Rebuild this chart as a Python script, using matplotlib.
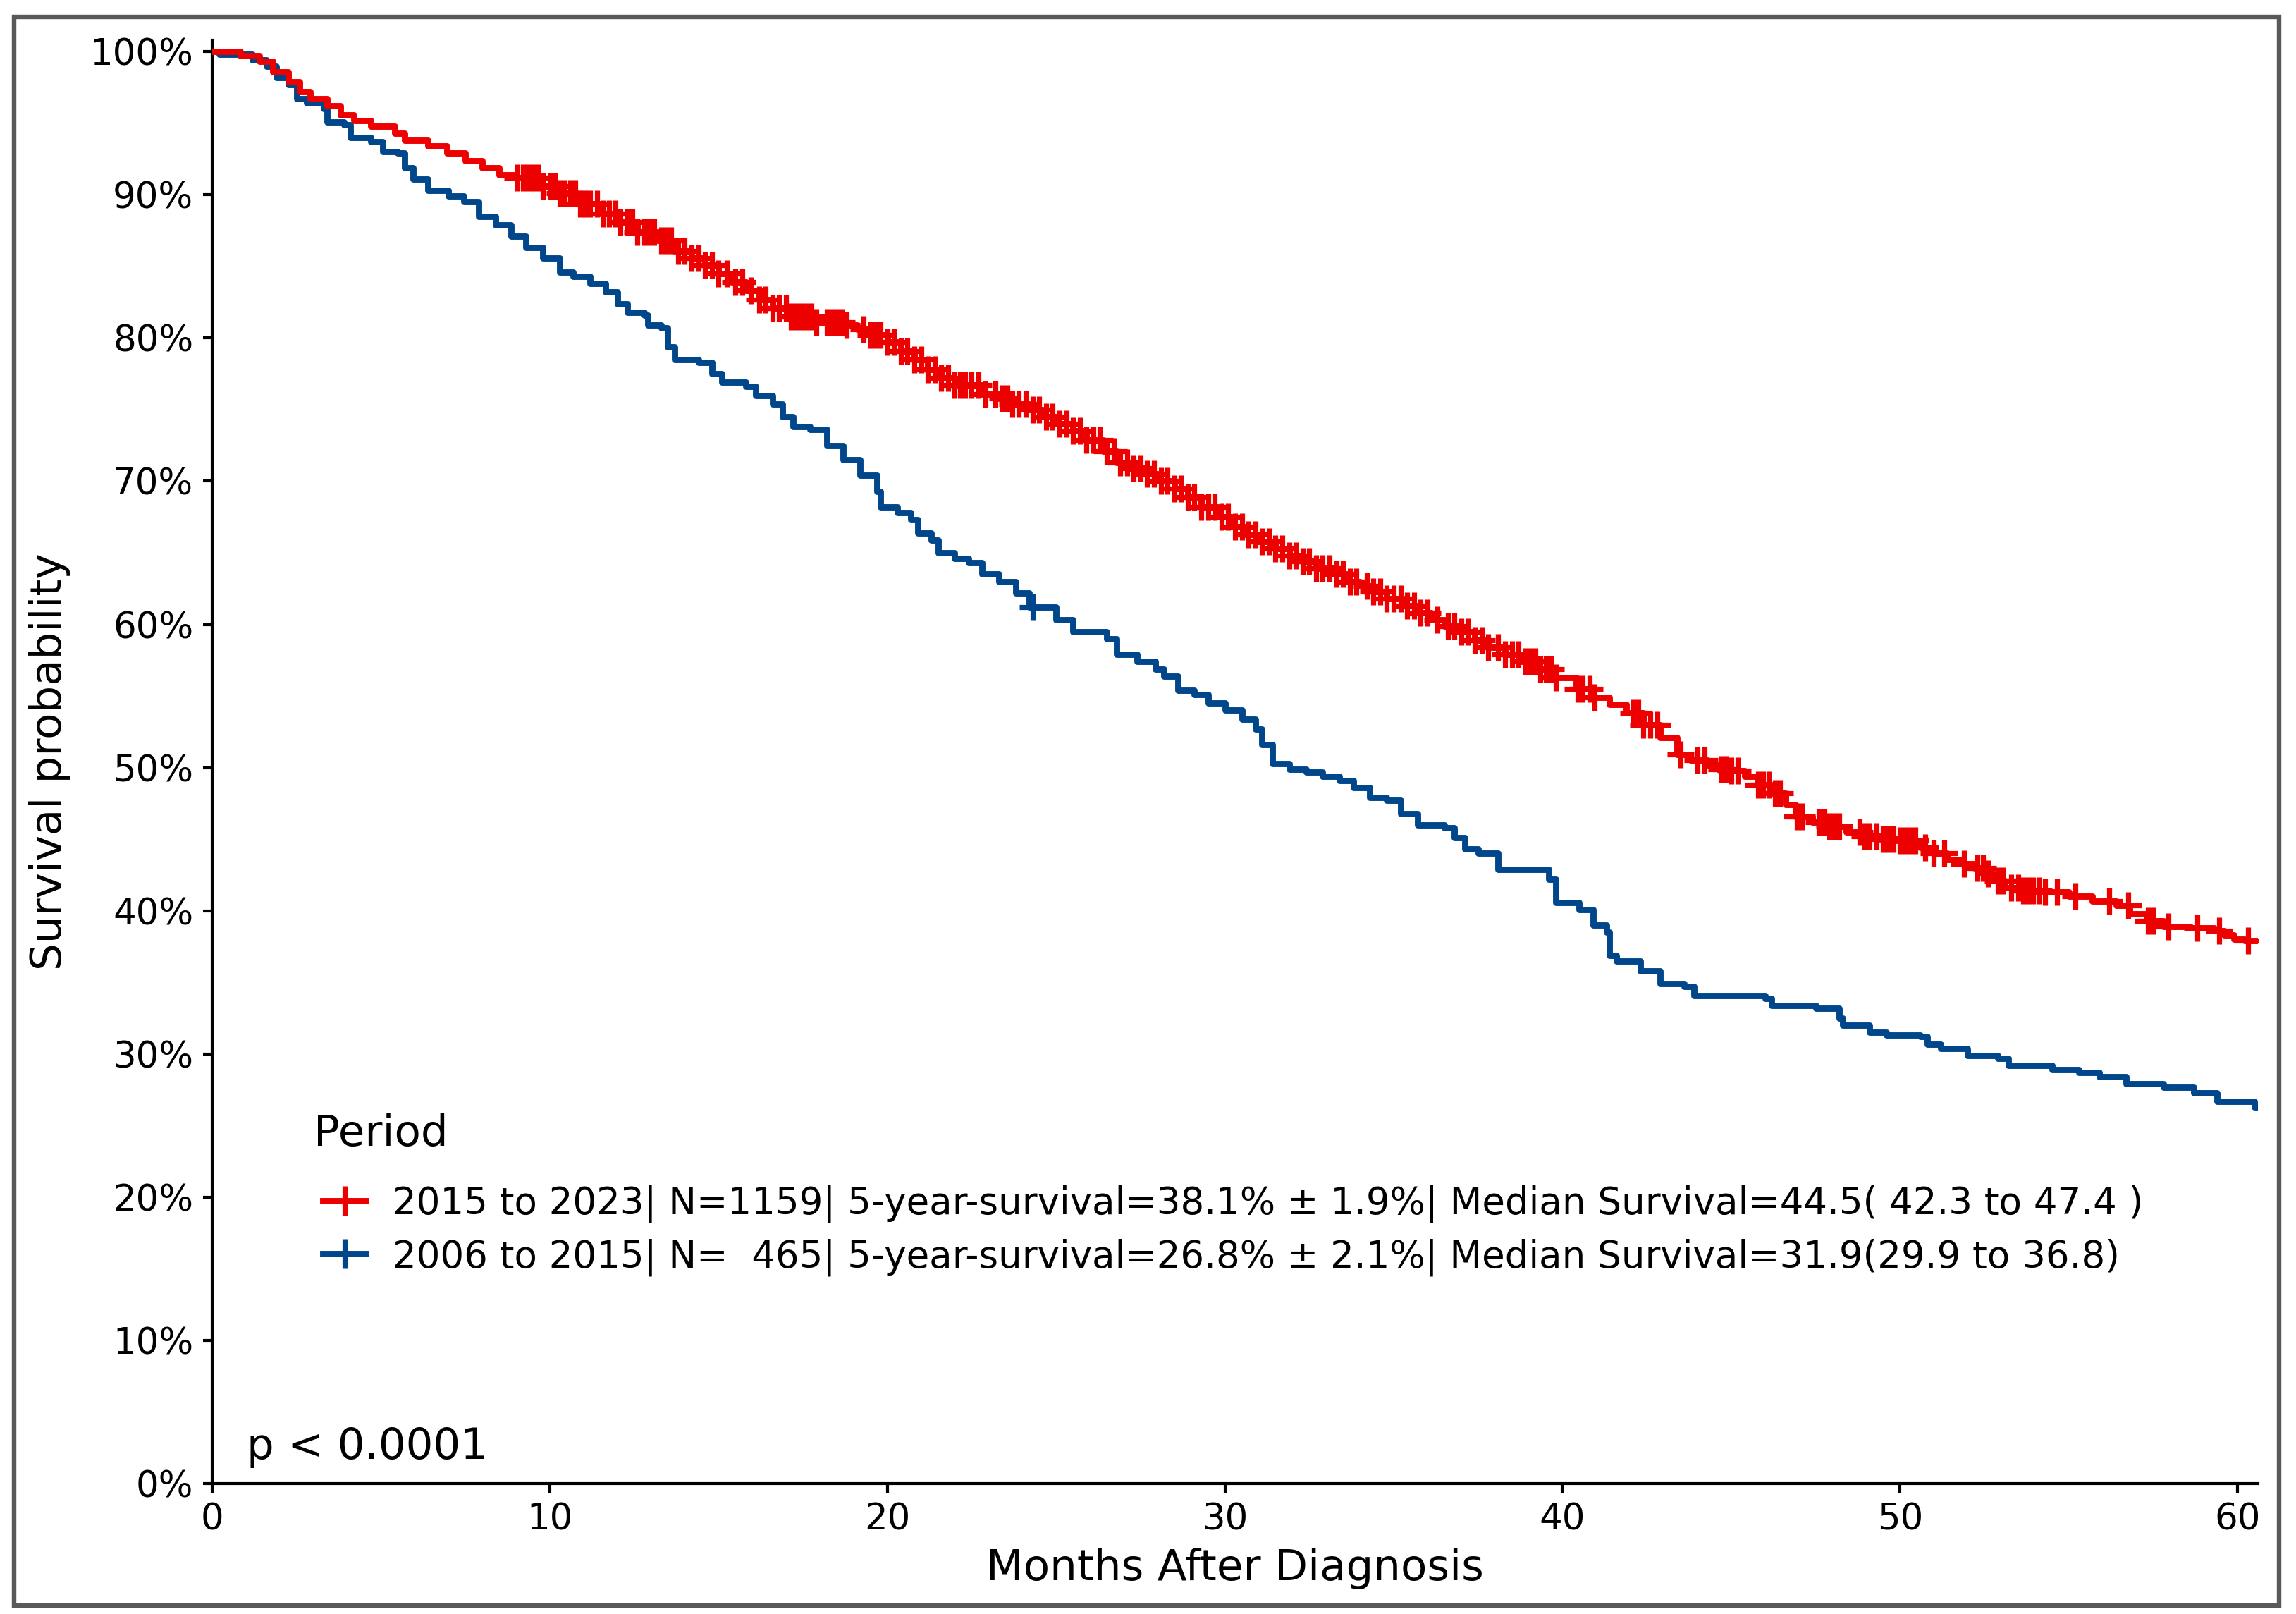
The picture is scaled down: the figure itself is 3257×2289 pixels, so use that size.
import numpy as np
import matplotlib
matplotlib.use("Agg")
import matplotlib.pyplot as plt
from matplotlib.lines import Line2D
from matplotlib.patches import Rectangle
from matplotlib.ticker import PercentFormatter

# Kaplan-Meier curves (months, survival)
red_t = [0, 0.6, 0.84, 1.4, 1.8, 2.25, 2.6, 2.9, 3.4, 3.8, 4.2, 4.7, 5.4, 5.7, 6.4, 6.95,
         7.5, 8.0, 8.5, 9.0, 9.7, 10.2, 10.8, 11.5, 12.0, 12.6, 13.2, 13.7, 14.2, 14.6,
         15.0, 15.4, 15.8, 16.2, 16.6, 17.05, 17.9, 18.7, 19.1, 19.5, 20.0, 20.4, 20.8,
         21.2, 21.6, 22.0, 22.8, 23.3, 23.7, 24.2, 24.6, 25.05, 25.5, 25.9, 26.4, 26.8,
         27.2, 27.6, 28.0, 28.5, 28.9, 29.3, 29.8, 30.2, 30.6, 31.0, 31.5, 31.9, 32.3,
         32.7, 33.2, 33.6, 34.0, 34.4, 34.8, 35.3, 35.7, 36.1, 36.5, 36.9, 37.4, 37.8,
         38.3, 38.8, 39.3, 39.8, 40.4, 40.9, 41.4, 41.9, 42.4, 42.9, 43.4, 43.8, 44.3,
         44.6, 45.0, 45.4, 45.8, 46.2, 46.6, 46.9, 47.4, 47.9, 48.4, 48.9, 49.4, 49.9,
         50.6, 51.0, 51.4, 51.8, 52.2, 52.5, 52.8, 53.1, 53.6, 54.3, 55.0, 55.7, 56.4,
         56.8, 57.3, 57.8, 58.6, 59.3, 59.6, 59.9, 60.2, 60.6]
red_s = [1.000, 1.000, 0.997, 0.993, 0.986, 0.979, 0.972, 0.967, 0.962, 0.956, 0.952, 0.948,
         0.943, 0.938, 0.934, 0.929, 0.924, 0.919, 0.914, 0.912, 0.906, 0.901, 0.894, 0.887,
         0.881, 0.874, 0.868, 0.861, 0.856, 0.851, 0.845, 0.839, 0.833, 0.827, 0.821, 0.815,
         0.811, 0.809, 0.806, 0.802, 0.797, 0.791, 0.785, 0.778, 0.772, 0.767, 0.761, 0.758,
         0.754, 0.750, 0.745, 0.740, 0.735, 0.729, 0.721, 0.713, 0.709, 0.705, 0.700, 0.695,
         0.689, 0.682, 0.675, 0.668, 0.663, 0.658, 0.653, 0.648, 0.644, 0.639, 0.635, 0.630,
         0.627, 0.623, 0.618, 0.613, 0.608, 0.603, 0.599, 0.595, 0.589, 0.584, 0.579, 0.574,
         0.569, 0.563, 0.555, 0.549, 0.544, 0.538, 0.530, 0.521, 0.509, 0.505, 0.502, 0.499,
         0.498, 0.494, 0.488, 0.482, 0.474, 0.466, 0.462, 0.459, 0.455, 0.452, 0.450, 0.449,
         0.444, 0.440, 0.436, 0.433, 0.430, 0.426, 0.421, 0.416, 0.414, 0.413, 0.410, 0.407,
         0.404, 0.398, 0.393, 0.389, 0.388, 0.386, 0.383, 0.380, 0.379, 0.379]

blue_t = [0, 0.2, 1.2, 1.6, 1.9, 2.25, 2.5, 2.8, 3.3, 3.4, 3.9, 4.1, 4.7, 5.05, 5.5, 5.7,
          5.96, 6.4, 7.0, 7.45, 7.9, 8.4, 8.85, 9.3, 9.8, 10.3, 10.7, 11.2, 11.65, 12.0,
          12.3, 12.8, 12.9, 13.3, 13.5, 13.7, 14.4, 14.8, 15.1, 15.8, 16.1, 16.6, 16.9,
          17.2, 17.7, 18.2, 18.7, 19.2, 19.7, 19.8, 20.3, 20.7, 20.9, 21.3, 21.5, 22.0,
          22.4, 22.8, 23.3, 23.8, 24.2, 25.0, 25.5, 26.5, 26.8, 27.4, 27.95, 28.2, 28.6,
          29.1, 29.5, 30.0, 30.5, 30.9, 31.1, 31.4, 31.9, 32.4, 32.9, 33.4, 33.8, 34.3,
          34.8, 35.2, 35.7, 36.5, 36.8, 37.1, 37.5, 38.1, 39.6, 39.8, 40.5, 40.9, 41.3,
          41.4, 41.6, 42.3, 42.9, 43.6, 43.9, 46.0, 46.2, 47.5, 48.2, 48.3, 49.1, 49.6,
          50.6, 50.8, 51.2, 52.0, 52.9, 53.2, 54.5, 55.3, 55.9, 56.7, 57.8, 58.7, 59.4,
          60.5, 60.6]
blue_s = [1.000, 0.998, 0.994, 0.990, 0.982, 0.977, 0.967, 0.964, 0.960, 0.951, 0.949, 0.940,
          0.937, 0.930, 0.929, 0.919, 0.911, 0.903, 0.899, 0.895, 0.885, 0.879, 0.871, 0.863,
          0.856, 0.846, 0.843, 0.838, 0.832, 0.824, 0.818, 0.816, 0.809, 0.807, 0.794, 0.785,
          0.783, 0.775, 0.769, 0.766, 0.760, 0.754, 0.745, 0.738, 0.736, 0.725, 0.715, 0.704,
          0.693, 0.682, 0.678, 0.673, 0.664, 0.659, 0.650, 0.646, 0.643, 0.635, 0.630, 0.622,
          0.612, 0.603, 0.595, 0.590, 0.579, 0.574, 0.569, 0.564, 0.554, 0.551, 0.545, 0.540,
          0.534, 0.527, 0.516, 0.503, 0.499, 0.497, 0.494, 0.491, 0.486, 0.479, 0.477, 0.468,
          0.460, 0.458, 0.451, 0.443, 0.440, 0.429, 0.422, 0.406, 0.401, 0.390, 0.385, 0.369,
          0.365, 0.358, 0.349, 0.347, 0.341, 0.339, 0.334, 0.332, 0.325, 0.320, 0.315, 0.313,
          0.312, 0.307, 0.304, 0.299, 0.297, 0.292, 0.289, 0.287, 0.284, 0.279, 0.277, 0.273,
          0.267, 0.263, 0.263]

# censoring times (months)
red_cens = [9.05, 9.2, 9.35, 9.5, 9.65, 9.8, 10.0, 10.15, 10.3, 10.45, 10.6, 10.75, 10.9,
            11.05, 11.2, 11.4, 11.6, 11.75, 11.95, 12.1, 12.3, 12.45, 12.6,
            12.8, 12.95, 13.1, 13.3, 13.45, 13.6, 13.8, 14.0, 14.2, 14.4, 14.6, 14.8, 15.0,
            15.25, 15.5, 15.7, 15.95, 16.2, 16.4, 16.6, 16.8, 17.0, 17.15, 17.3, 17.45, 17.6,
            17.75, 17.9, 18.2, 18.35, 18.5, 18.65, 18.8, 19.3, 19.5, 19.65, 19.8, 20.0, 20.2,
            20.4, 20.6, 20.8, 21.0, 21.2, 21.4, 21.6, 21.8, 22.0, 22.15, 22.3, 22.5, 22.7,
            22.9, 23.2, 23.4, 23.55, 23.7, 23.9, 24.1, 24.3, 24.5, 24.7, 24.9,
            25.1, 25.3, 25.5, 25.7, 25.9, 26.1, 26.3, 26.5, 26.7, 26.9, 27.1, 27.3, 27.5,
            27.7, 27.9, 28.1, 28.3, 28.5, 28.7, 28.9, 29.1, 29.3, 29.5, 29.7, 29.9, 30.1,
            30.3, 30.5, 30.7, 30.9, 31.1, 31.3, 31.5, 31.7, 31.9, 32.1, 32.3, 32.5, 32.7,
            32.9, 33.1, 33.3, 33.5, 33.7, 33.9, 34.2, 34.4, 34.6, 34.8, 35.0, 35.2, 35.4,
            35.6, 35.8, 36.0, 36.3, 36.6, 36.8, 37.0, 37.2, 37.4, 37.6,
            37.8, 38.1, 38.3, 38.5, 38.7, 38.9, 39.05, 39.2, 39.35, 39.5, 39.65, 39.8, 40.45,
            40.6, 40.8, 40.95, 42.1, 42.25, 42.4, 42.6, 42.8, 43.5, 44.0, 44.2, 44.7, 44.85,
            45.0, 45.2, 45.8, 45.95, 46.1, 46.3, 46.45, 46.95, 47.1, 47.6, 47.75, 47.9, 48.05,
            48.2, 48.8, 48.95, 49.1, 49.3, 49.5, 49.65, 49.8,
            50.0, 50.15, 50.3, 50.45, 50.75, 51.0, 51.3, 51.9, 52.3, 52.45, 52.6, 52.9, 53.05,
            53.3, 53.5, 53.65, 53.8, 53.95, 54.1, 54.3, 54.65, 55.2, 56.2, 56.75, 57.35, 57.5,
            57.95, 58.8, 59.45, 60.3]
blue_cens = [24.3]

labels = ["2015 to 2023| N=1159| 5-year-survival=38.1% \u00b1 1.9%| Median Survival=44.5( 42.3 to 47.4 )",
          "2006 to 2015| N=  465| 5-year-survival=26.8% \u00b1 2.1%| Median Survival=31.9(29.9 to 36.8)"]
red = "#ED0000"
blue = "#00468B"


def surv_at(t, s, x):
    idx = np.searchsorted(np.array(t), np.array(x), side="right") - 1
    return np.array(s)[idx]


fig = plt.figure(figsize=(16.285, 11.445), dpi=200)
ax = fig.add_axes([0.0924, 0.0808, 0.891, 0.8943])

ax.step(blue_t, blue_s, where="post", color=blue, lw=3.2, zorder=2)
ax.step(red_t, red_s, where="post", color=red, lw=3.2, zorder=3)
ax.plot(red_cens, surv_at(red_t, red_s, red_cens), ls="none", marker="+",
        ms=14, mew=2.6, color=red, zorder=3)
ax.plot(blue_cens, surv_at(blue_t, blue_s, blue_cens), ls="none", marker="+",
        ms=14, mew=2.6, color=blue, zorder=2)

ax.set_xlim(0, 60.6)
ax.set_ylim(0, 1.008)
ax.set_xticks([0, 10, 20, 30, 40, 50, 60])
ax.set_yticks(np.arange(0, 1.01, 0.1))
ax.yaxis.set_major_formatter(PercentFormatter(1.0, decimals=0))
for side in ["top", "right"]:
    ax.spines[side].set_visible(False)
for side in ["left", "bottom"]:
    ax.spines[side].set_linewidth(1.5)
ax.tick_params(labelsize=18.5, width=1.5, length=4.6, pad=5)

ax.set_xlabel("Months After Diagnosis", fontsize=22, labelpad=5)
ax.set_ylabel("Survival probability", fontsize=22, labelpad=10)

ax.text(0.017, 0.017, "p < 0.0001", transform=ax.transAxes, fontsize=22, va="baseline")

# legend title placed as its own text
ax.text(0.0495, 0.242, "Period", transform=ax.transAxes, fontsize=22, va="center")

handles = [Line2D([], [], color=red, lw=3.2, marker="+", ms=15, mew=2.6),
           Line2D([], [], color=blue, lw=3.2, marker="+", ms=15, mew=2.6)]
leg = ax.legend(handles, labels, loc="upper left",
                bbox_to_anchor=(0.045, 0.22), frameon=False, fontsize=19.1,
                handlelength=1.15, handletextpad=0.72, labelspacing=0.42, borderpad=0)

fig.patches.append(Rectangle((20 / 3257, 12 / 2289), 3213 / 3257, 2253 / 2289,
                             transform=fig.transFigure, fill=False,
                             edgecolor="#595959", lw=2.3))

fig.savefig("out.png", dpi=200)
